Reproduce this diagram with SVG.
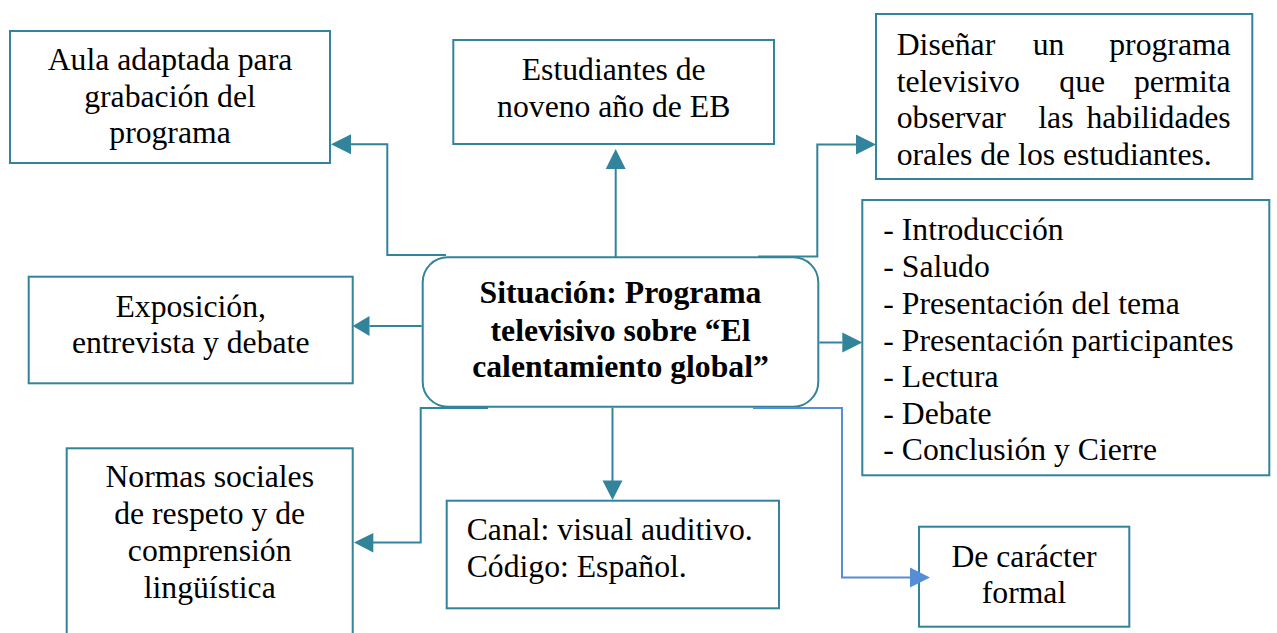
<svg xmlns="http://www.w3.org/2000/svg" width="1277" height="633" viewBox="0 0 1277 633">
<style>
.box{fill:#fff;stroke:#31849B;stroke-width:2}
.t{font-family:"Liberation Serif","Times New Roman",serif;font-size:31.7px;fill:#000}
.c{text-anchor:middle}
.e{text-anchor:end}
.b{font-weight:bold}
.ln{fill:none;stroke:#31849B;stroke-width:2}
.lb{fill:none;stroke:#558ED5;stroke-width:2}
.ah{fill:#31849B}
.ahb{fill:#558ED5}
</style>
<rect width="1277" height="633" fill="#fff"/>
<g id="n-aula">
<rect class="box" x="10" y="31" width="320" height="132"/>
<text class="t c" x="170" y="70">Aula adaptada para</text>
<text class="t c" x="170" y="106.7">grabación del</text>
<text class="t c" x="170" y="143.3">programa</text>
</g>
<g id="n-estudiantes">
<rect class="box" x="453.3" y="40" width="320.7" height="104"/>
<text class="t c" x="613.7" y="80">Estudiantes de</text>
<text class="t c" x="613.7" y="116.7">noveno año de EB</text>
</g>
<g id="n-disenar">
<rect class="box" x="876" y="14" width="376.3" height="165"/>
<text class="t" x="896.7" y="55">Diseñar</text>
<text class="t" x="1032.7" y="55">un</text>
<text class="t e" x="1230.7" y="55">programa</text>
<text class="t" x="896.7" y="91.7">televisivo</text>
<text class="t" x="1059.3" y="91.7">que</text>
<text class="t e" x="1230.7" y="91.7">permita</text>
<text class="t" x="896.7" y="128.3">observar</text>
<text class="t" x="1038.3" y="128.3">las</text>
<text class="t e" x="1230.7" y="128.3">habilidades</text>
<text class="t" x="896.7" y="165">orales de los estudiantes.</text>
</g>
<g id="n-situacion">
<rect class="box" x="422.7" y="257.3" width="395.6" height="149.4" rx="25" ry="25"/>
<text class="t c b" x="620.5" y="303.3">Situación: Programa</text>
<text class="t c b" x="620.5" y="340.7">televisivo sobre “El</text>
<text class="t c b" x="620.5" y="377.3">calentamiento global”</text>
</g>
<g id="n-lista">
<rect class="box" x="862.3" y="200" width="407" height="275.3"/>
<text class="t" x="883.3" y="240">- Introducción</text>
<text class="t" x="883.3" y="277">- Saludo</text>
<text class="t" x="883.3" y="313.7">- Presentación del tema</text>
<text class="t" x="883.3" y="350.5">- Presentación participantes</text>
<text class="t" x="883.3" y="387.2">- Lectura</text>
<text class="t" x="883.3" y="423.5">- Debate</text>
<text class="t" x="883.3" y="460">- Conclusión y Cierre</text>
</g>
<g id="n-exposicion">
<rect class="box" x="28.7" y="276.7" width="324" height="106.6"/>
<text class="t c" x="190.7" y="316.7">Exposición,</text>
<text class="t c" x="190.7" y="353.3">entrevista y debate</text>
</g>
<g id="n-normas">
<rect class="box" x="66.7" y="448.3" width="286" height="200"/>
<text class="t c" x="209.7" y="487.3">Normas sociales</text>
<text class="t c" x="209.7" y="524">de respeto y de</text>
<text class="t c" x="209.7" y="560.7">comprensión</text>
<text class="t c" x="209.7" y="598.3">lingüística</text>
</g>
<g id="n-canal">
<rect class="box" x="446.7" y="500.7" width="332.3" height="107.6"/>
<text class="t" x="466.7" y="540">Canal: visual auditivo.</text>
<text class="t" x="466.7" y="576.7">Código: Español.</text>
</g>
<g id="n-formal">
<rect class="box" x="919" y="526.7" width="210.3" height="100"/>
<text class="t c" x="1024" y="566.7">De carácter</text>
<text class="t c" x="1024" y="602.7">formal</text>
</g>
<g id="connectors">
<path class="ln" d="M446,255 H387.3 V144.3 H351"/>
<polygon class="ah" points="331,144.3 351,134.3 351,154.3"/>
<path class="ln" d="M615.7,257 V169"/>
<polygon class="ah" points="615.7,149 605.7,169 625.7,169"/>
<path class="ln" d="M758,256.5 H817.3 V144.5 H857"/>
<polygon class="ah" points="876,144.5 856,134.5 856,154.5"/>
<path class="ln" d="M819.3,342.5 H842.5"/>
<polygon class="ah" points="862.3,342.5 842.3,332.5 842.3,352.5"/>
<path class="ln" d="M421.7,326 H369.5"/>
<polygon class="ah" points="352.7,326 369.5,316 369.5,336"/>
<path class="ln" d="M488,408 H420.7 V542.5 H373"/>
<polygon class="ah" points="354,542.5 373.3,533 373.3,552.5"/>
<path class="ln" d="M612.5,407.7 V481"/>
<polygon class="ah" points="612.5,500 602.5,480.5 622.5,480.5"/>
<path class="lb" d="M753,408 H842 V577.5 H911"/>
<polygon class="ahb" points="930,577.5 910,567.5 910,587.5"/>
</g>
</svg>
